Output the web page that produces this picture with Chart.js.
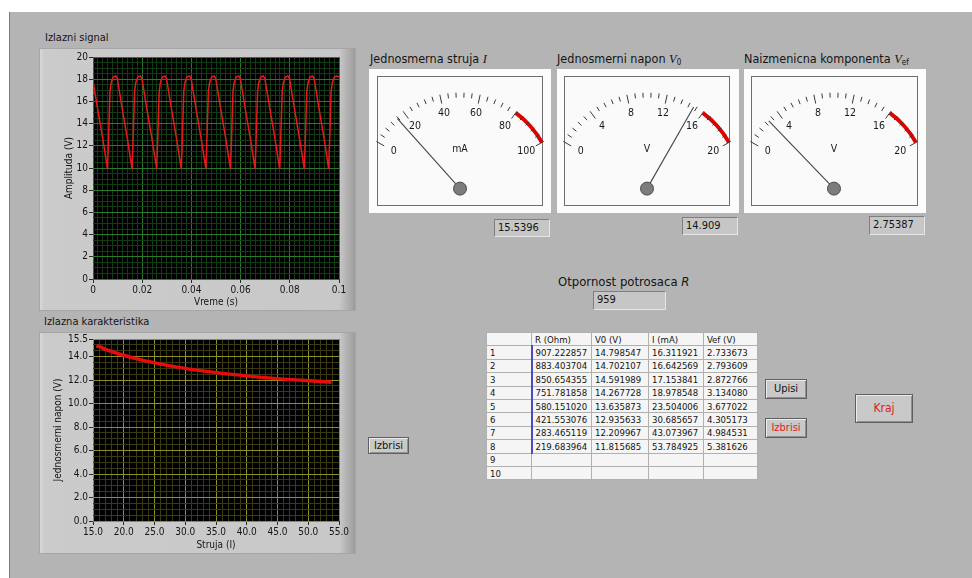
<!DOCTYPE html>
<html>
<head>
<meta charset="utf-8">
<title>Ispravljac</title>
<script src="https://cdn.jsdelivr.net/npm/chart.js@4.4.1/dist/chart.umd.min.js"></script>
<style>
  body { margin: 0; width: 972px; height: 578px; background: #fff; position: relative; overflow: hidden;
         font-family: "DejaVu Sans Condensed", "Liberation Sans", sans-serif; color: #141414; }
  .a { position: absolute; }
  #panel { left: 9px; top: 12px; width: 963px; height: 566px; background: #b4b4b4; border-left: 1px solid #7c7c7c; }
  .lbl { font-size: 11px; white-space: nowrap; }
  .frame { background: linear-gradient(to right, #d8d8d8 0, #cbcbcb 4px, #c8c8c8 95%, #9c9c9c 100%); border: 1px solid #a6a6a6; box-sizing: border-box; }
  .gOuter { background: #fcfcfc; }
  .gInner { background: #fafafa; border: 1px solid #6e6e6e; box-sizing: border-box; }
  .title { font-size: 12.5px; white-space: nowrap; height: 16px; line-height: 16px; }
  .title sub { font-size: 8px; line-height: 0; vertical-align: -2px; }
  .disp { background: #c6c6c6; border-top: 1px solid #7f7f7f; border-left: 1px solid #7f7f7f; border-bottom: 1px solid #e6e6e6; border-right: 1px solid #e6e6e6; box-sizing: border-box; font-size: 11px; padding-left: 3px; line-height: 16px; }
  .btn { background: #c9c9c9; border: 1px solid #5f5f5f; box-shadow: inset 1px 1px 0 #ececec, inset -1px -1px 0 #8f8f8f; box-sizing: border-box; text-align: center; font-size: 11px; }
  table { border-collapse: collapse; font-size: 9.5px; table-layout: fixed; border: 1px solid #8c8c8c; }
  td { border: 1px solid #b0b0b0; background: #f5f5f5; height: 13.4px; padding: 0 3px; line-height: 11px; white-space: nowrap; overflow: hidden; box-sizing: border-box; }
  td.sel { border-left: 2px solid #4b4bc8; }
</style>
</head>
<body>
<div id="panel" class="a"></div>

<div class="a lbl" style="left:45px;top:31px">Izlazni signal</div>
<div class="a frame" style="left:39px;top:48px;width:317px;height:263px"></div>
<canvas id="signalChart" class="a" width="315" height="262" style="left:40px;top:48px"></canvas>

<div class="a lbl" style="left:44px;top:315px">Izlazna karakteristika</div>
<div class="a frame" style="left:39px;top:332px;width:317px;height:222px"></div>
<canvas id="karakChart" class="a" width="315" height="221" style="left:40px;top:332px"></canvas>

<div class="a title" style="left:370px;top:51px">Jednosmerna struja <i style="font-family:'Liberation Serif',serif">I</i></div>
<div class="a gOuter" style="left:369px;top:69px;width:182px;height:144px"></div>
<div class="a gInner" style="left:377px;top:76px;width:166px;height:130px"></div>
<canvas id="gaugeI" class="a" width="168" height="129" style="left:376px;top:76px"></canvas>
<div class="a disp" id="dispI" style="left:494px;top:219px;width:56px;height:18px"></div>

<div class="a title" style="left:557px;top:51px">Jednosmerni napon <i style="font-family:'Liberation Serif',serif">V</i><sub>0</sub></div>
<div class="a gOuter" style="left:557px;top:69px;width:182px;height:144px"></div>
<div class="a gInner" style="left:564px;top:76px;width:166px;height:130px"></div>
<canvas id="gaugeV0" class="a" width="168" height="129" style="left:563px;top:76px"></canvas>
<div class="a disp" id="dispV0" style="left:682px;top:217px;width:56px;height:18px"></div>

<div class="a title" style="left:744px;top:51px">Naizmenicna komponenta <i style="font-family:'Liberation Serif',serif">V</i><sub>ef</sub></div>
<div class="a gOuter" style="left:744px;top:69px;width:182px;height:144px"></div>
<div class="a gInner" style="left:751px;top:76px;width:167px;height:130px"></div>
<canvas id="gaugeVef" class="a" width="168" height="129" style="left:750px;top:76px"></canvas>
<div class="a disp" id="dispVef" style="left:869px;top:216px;width:56px;height:19px"></div>

<div class="a title" style="left:558px;top:274px;font-size:13px">Otpornost potrosaca <i>R</i></div>
<div class="a disp" id="dispR" style="left:593px;top:291px;width:73px;height:19px"></div>

<table id="tabela" class="a" style="left:486px;top:332px;width:271px">
  <colgroup><col style="width:45px"><col style="width:60px"><col style="width:57px"><col style="width:55px"><col style="width:54px"></colgroup>
  <tbody id="tabelaBody"></tbody>
</table>

<div class="a btn" style="left:765px;top:379px;width:42px;height:20px;line-height:18px">Upisi</div>
<div class="a btn" style="left:765px;top:418px;width:42px;height:20px;line-height:18px;color:#e02020">Izbrisi</div>
<div class="a btn" style="left:855px;top:394px;width:58px;height:29px;line-height:27px;color:#e02020;font-size:12px">Kraj</div>
<div class="a btn" style="left:368px;top:437px;width:41px;height:17px;line-height:15px">Izbrisi</div>

<script>
// izlazni signal (ocitano sa grafika)
const vremeS = [
  0, 0.002, 0.004, 0.0059, 0.0063, 0.0069, 0.0074, 0.0082, 0.0092, 0.0098,
  0.010, 0.012, 0.014, 0.0159, 0.0163, 0.0169, 0.0174, 0.0182, 0.0192, 0.0198,
  0.020, 0.022, 0.024, 0.0259, 0.0263, 0.0269, 0.0274, 0.0282, 0.0292, 0.0298,
  0.030, 0.032, 0.034, 0.0359, 0.0363, 0.0369, 0.0374, 0.0382, 0.0392, 0.0398,
  0.040, 0.042, 0.044, 0.0459, 0.0463, 0.0469, 0.0474, 0.0482, 0.0492, 0.0498,
  0.050, 0.052, 0.054, 0.0559, 0.0563, 0.0569, 0.0574, 0.0582, 0.0592, 0.0598,
  0.060, 0.062, 0.064, 0.0659, 0.0663, 0.0669, 0.0674, 0.0682, 0.0692, 0.0698,
  0.070, 0.072, 0.074, 0.0759, 0.0763, 0.0769, 0.0774, 0.0782, 0.0792, 0.0798,
  0.080, 0.082, 0.084, 0.0859, 0.0863, 0.0869, 0.0874, 0.0882, 0.0892, 0.0898,
  0.090, 0.092, 0.094, 0.0958, 0.0962, 0.0968, 0.0973, 0.0981, 0.0991, 0.1
];
const amplitudaV = [
  17.8, 15.2, 12.6, 9.9, 12.6, 16.9, 17.7, 18.2, 18.3, 18.1,
  17.9, 15.2, 12.6, 9.9, 12.6, 16.9, 17.7, 18.2, 18.3, 18.1,
  17.9, 15.2, 12.6, 9.9, 12.6, 16.9, 17.7, 18.2, 18.3, 18.1,
  17.9, 15.2, 12.6, 9.9, 12.6, 16.9, 17.7, 18.2, 18.3, 18.1,
  17.9, 15.2, 12.6, 9.9, 12.6, 16.9, 17.7, 18.2, 18.3, 18.1,
  17.9, 15.2, 12.6, 9.9, 12.6, 16.9, 17.7, 18.2, 18.3, 18.1,
  17.9, 15.2, 12.6, 9.9, 12.6, 16.9, 17.7, 18.2, 18.3, 18.1,
  17.9, 15.2, 12.6, 9.9, 12.6, 16.9, 17.7, 18.2, 18.3, 18.1,
  17.9, 15.2, 12.6, 9.9, 12.6, 16.9, 17.7, 18.2, 18.3, 18.1,
  17.9, 15.2, 12.6, 9.9, 12.6, 16.9, 17.7, 18.2, 18.3, 18.2
];

// tabela merenja
const otpornostOhm = [907.222857, 883.403704, 850.654355, 751.781858, 580.151020, 421.553076, 283.465119, 219.683964];
const naponV0 = [14.798547, 14.702107, 14.591989, 14.267728, 13.635873, 12.935633, 12.209967, 11.815685];
const strujaMA = [16.311921, 16.642569, 17.153841, 18.978548, 23.504006, 30.685657, 43.073967, 53.784925];
const naponVef = [2.733673, 2.793609, 2.872766, 3.134080, 3.677022, 4.305173, 4.984531, 5.381626];

// trenutne vrednosti
const trenutnoI = 15.5396;
const trenutnoV0 = 14.909;
const trenutnoVef = 2.75387;
const otpornostR = 959;

// podeoci
const signalXTicks = [0, 0.02, 0.04, 0.06, 0.08, 0.1];
const signalYTicks = [0, 2, 4, 6, 8, 10, 12, 14, 16, 18, 20];
const karakXTicks = [15, 20, 25, 30, 35, 40, 45, 50, 55];
const karakYTicks = [0, 2, 4, 6, 8, 10, 12, 14, 15.5];
const strujaSkala = [0, 20, 40, 60, 80, 100];
const naponSkala = [0, 4, 8, 12, 16, 20];

const FONT = '"DejaVu Sans Condensed", "Liberation Sans", sans-serif';
Chart.defaults.font.family = FONT;
Chart.defaults.color = '#141414';

// tekstualni prikazi
document.getElementById('dispI').textContent = trenutnoI;
document.getElementById('dispV0').textContent = trenutnoV0;
document.getElementById('dispVef').textContent = trenutnoVef;
document.getElementById('dispR').textContent = otpornostR;

const body = document.getElementById('tabelaBody');
let html = '<tr><td></td><td>R (Ohm)</td><td>V0 (V)</td><td>I (mA)</td><td>Vef (V)</td></tr>';
for (let i = 0; i < 10; i++) {
  if (i < otpornostOhm.length) {
    html += '<tr><td>' + (i + 1) + '</td><td class="sel">' + otpornostOhm[i].toFixed(6) + '</td><td>' + naponV0[i].toFixed(6) +
            '</td><td>' + strujaMA[i].toFixed(6) + '</td><td>' + naponVef[i].toFixed(6) + '</td></tr>';
  } else {
    html += '<tr><td>' + (i + 1) + '</td><td></td><td></td><td></td><td></td></tr>';
  }
}
body.innerHTML = html;

function near(a, b) { return Math.abs(a - b) < 1e-7; }

function gridValues(min, max, step, major) {
  const out = [];
  for (let v = min; v <= max + 1e-9; v += step) out.push(+v.toFixed(6));
  major.forEach(m => { if (!out.some(v => near(v, m))) out.push(m); });
  return out.sort((a, b) => a - b);
}

function lvScale(o) {
  return {
    type: 'linear',
    position: o.pos,
    min: o.min,
    max: o.max,
    afterFit: s => { if (o.pos === 'left') s.width = o.size; else s.height = o.size; },
    afterBuildTicks: s => {
      s.ticks = gridValues(o.min, o.max, o.minor, o.major).map(v => ({ value: v, lv: o.major.some(m => near(m, v)) }));
    },
    ticks: {
      autoSkip: false, maxRotation: 0, minRotation: 0, padding: 1,
      font: { size: 10 }, color: '#141414',
      callback: (v, i, t) => t[i].lv ? o.fmt(v) : ''
    },
    grid: {
      color: c => (c.tick && c.tick.lv) ? o.majorColor : o.minorColor,
      lineWidth: 1,
      tickLength: 4,
      tickColor: c => (c.tick && c.tick.lv) ? '#2a2a2a' : 'rgba(0,0,0,0)'
    },
    border: { display: false },
    title: { display: true, text: o.title, font: { size: 10 }, color: '#141414', padding: o.titlePad }
  };
}

const plotBg = {
  id: 'plotBg',
  beforeDraw(chart) {
    const { ctx, chartArea: c } = chart;
    ctx.save();
    ctx.fillStyle = '#000';
    ctx.fillRect(c.left, c.top, c.width, c.height);
    ctx.restore();
  }
};

new Chart(document.getElementById('signalChart'), {
  type: 'line',
  data: {
    datasets: [{
      data: vremeS.map((t, i) => ({ x: t, y: amplitudaV[i] })),
      borderColor: '#e8191c',
      borderWidth: 1.5,
      pointRadius: 0,
      tension: 0
    }]
  },
  options: {
    responsive: false, animation: false, events: [],
    layout: { padding: { top: 9, right: 16, left: 0, bottom: 0 } },
    plugins: { legend: { display: false }, tooltip: { enabled: false } },
    scales: {
      x: lvScale({ pos: 'bottom', min: 0, max: 0.1, minor: 0.002, major: signalXTicks, size: 31,
                   fmt: v => String(+v.toFixed(2)), title: 'Vreme (s)', titlePad: { top: 0, bottom: 2 },
                   majorColor: '#2b7a2b', minorColor: '#123d12' }),
      y: lvScale({ pos: 'left', min: 0, max: 20, minor: 0.5, major: signalYTicks, size: 53,
                   fmt: v => String(v), title: 'Amplituda (V)', titlePad: { top: 23, bottom: 0 },
                   majorColor: '#2b7a2b', minorColor: '#123d12' })
    }
  },
  plugins: [plotBg]
});

const karakI = [trenutnoI].concat(strujaMA);
const karakV = [trenutnoV0].concat(naponV0);

new Chart(document.getElementById('karakChart'), {
  type: 'line',
  data: {
    datasets: [{
      data: karakI.map((x, i) => ({ x: x, y: karakV[i] })),
      borderColor: '#e60c0c',
      borderWidth: 3.5,
      pointRadius: 0,
      cubicInterpolationMode: 'monotone'
    }]
  },
  options: {
    responsive: false, animation: false, events: [],
    layout: { padding: { top: 7, right: 16, left: 0, bottom: 0 } },
    plugins: { legend: { display: false }, tooltip: { enabled: false } },
    scales: {
      x: lvScale({ pos: 'bottom', min: 15, max: 55, minor: 1, major: karakXTicks, size: 32,
                   fmt: v => v.toFixed(1), title: 'Struja (I)', titlePad: { top: 0, bottom: 2 },
                   majorColor: '#8f8f22', minorColor: '#3b3b12' }),
      y: lvScale({ pos: 'left', min: 0, max: 15.5, minor: 0.5, major: karakYTicks, size: 53,
                   fmt: v => v.toFixed(1), title: 'Jednosmerni napon (V)', titlePad: { top: 12, bottom: 0 },
                   majorColor: '#8f8f22', minorColor: '#3b3b12' })
    }
  },
  plugins: [plotBg]
});

// instrumenti
const gaugeDial = {
  id: 'gaugeDial',
  afterDatasetsDraw(chart, args, g) {
    const arcs = chart.getDatasetMeta(0).data;
    const cx = arcs[0].x, cy = arcs[0].y, R = arcs[0].outerRadius;
    const a0 = arcs[0].startAngle, a1 = arcs[arcs.length - 1].endAngle;
    const ang = v => a0 + (v - g.min) / (g.max - g.min) * (a1 - a0);
    const ctx = chart.ctx;
    ctx.save();
    ctx.strokeStyle = '#3a3a3a';
    ctx.lineWidth = 1;
    const n = Math.round((g.max - g.min) / g.minor);
    for (let i = 0; i <= n; i++) {
      const v = g.min + i * g.minor;
      const major = g.labels.some(m => Math.abs(m - v) < 1e-6);
      const a = ang(v), r0 = R - (major ? 9 : 5);
      ctx.beginPath();
      ctx.moveTo(cx + Math.cos(a) * r0, cy + Math.sin(a) * r0);
      ctx.lineTo(cx + Math.cos(a) * R, cy + Math.sin(a) * R);
      ctx.stroke();
    }
    ctx.fillStyle = '#1a1a1a';
    ctx.font = '10.5px ' + FONT;
    ctx.textAlign = 'center';
    ctx.textBaseline = 'middle';
    g.labels.forEach(v => {
      const a = ang(v);
      ctx.fillText(String(v), cx + Math.cos(a) * (R - 20), cy + Math.sin(a) * (R - 19));
    });
    ctx.fillText(g.unit, cx, cy - 39);
    const an = ang(g.value);
    ctx.strokeStyle = '#454545';
    ctx.lineWidth = 1.1;
    ctx.beginPath();
    ctx.moveTo(cx, cy);
    ctx.lineTo(cx + Math.cos(an) * (R - 2), cy + Math.sin(an) * (R - 2));
    ctx.stroke();
    ctx.beginPath();
    ctx.arc(cx, cy, 6.5, 0, Math.PI * 2);
    ctx.fillStyle = '#7c7c7c';
    ctx.fill();
    ctx.strokeStyle = '#4a4a4a';
    ctx.lineWidth = 1;
    ctx.stroke();
    ctx.restore();
  }
};

function makeGauge(id, g) {
  return new Chart(document.getElementById(id), {
    type: 'doughnut',
    data: {
      datasets: [{
        data: [g.red[0] - g.min, g.red[1] - g.red[0]],
        backgroundColor: ['rgba(0,0,0,0)', '#e00000'],
        borderWidth: 0
      }]
    },
    options: {
      responsive: false, animation: false, events: [],
      rotation: -60.6, circumference: 121.2, cutout: '96%', radius: 96,
      layout: { padding: { top: 0, bottom: 45 } },
      plugins: { legend: { display: false }, tooltip: { enabled: false }, gaugeDial: g }
    },
    plugins: [gaugeDial]
  });
}

makeGauge('gaugeI', { min: 0, max: 100, minor: 4, labels: strujaSkala, red: [80, 100], value: trenutnoI, unit: 'mA' });
makeGauge('gaugeV0', { min: 0, max: 20, minor: 0.8, labels: naponSkala, red: [16, 20], value: trenutnoV0, unit: 'V' });
makeGauge('gaugeVef', { min: 0, max: 20, minor: 0.8, labels: naponSkala, red: [16, 20], value: trenutnoVef, unit: 'V' });
</script>
</body>
</html>
